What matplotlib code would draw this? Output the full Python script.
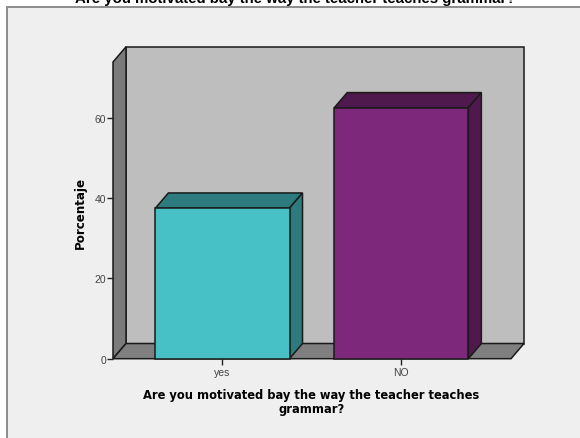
import matplotlib
matplotlib.use('Agg')
from matplotlib import pyplot as plt
from matplotlib.patches import Polygon, Rectangle

categories = ['yes', 'NO']
percent = [37.5, 62.5]
y_ticks = [0, 20, 40, 60]
front_colors = ['#47C1C6', '#7D287A']
shade_colors = ['#2D7B7E', '#4F194D']

title = 'Are you motivated bay the way the teacher teaches grammar?'
x_title = 'Are you motivated bay the way the teacher teaches\ngrammar?'

W, H = 580, 439
BAR_WIDTH = 0.75
EDGE = '#1A1A1A'


def main():
    plt.rcParams['font.family'] = ['Liberation Sans', 'DejaVu Sans']
    fig = plt.figure(figsize=(W / 100, H / 100), dpi=100, facecolor='white')

    # grey panel runs off the right and bottom of the image
    panel = Rectangle((7 / W, -0.1), 1.1, 1.1 - 8.3 / H, transform=fig.transFigure,
                      facecolor='#EFEFEF', edgecolor='#8C8C8C', linewidth=1.4, zorder=-1)
    fig.add_artist(panel)
    fig.text(295 / W, 1 - 2.8 / H, title, ha='center', va='baseline',
             fontsize=10.8, fontweight='bold', color='black')

    left, right, top, bottom = 113, 511, 63, 359.7
    ax = fig.add_axes([left / W, 1 - bottom / H, (right - left) / W, (bottom - top) / H])
    ax.patch.set_visible(False)
    ax.set_xlim(-0.612, 1.6135)
    ax.set_ylim(0, 73.9)

    # pseudo-3D offset of the back wall, in data units
    dx = 13 / 178.8
    dy = 15.2 / 4.017
    x0, x1 = ax.get_xlim()
    y1 = ax.get_ylim()[1]

    def face(points, color, z):
        ax.add_patch(Polygon(points, closed=True, facecolor=color, edgecolor=EDGE,
                             linewidth=1.1, joinstyle='miter', clip_on=False, zorder=z))

    # back wall, side wall, floor
    face([(x0 + dx, dy), (x1 + dx, dy), (x1 + dx, y1 + dy), (x0 + dx, y1 + dy)], '#BEBEBE', 1)
    face([(x0, 0), (x0 + dx, dy), (x0 + dx, y1 + dy), (x0, y1)], '#7B7B7B', 1.1)
    face([(x0, 0), (x1, 0), (x1 + dx, dy), (x0 + dx, dy)], '#7F7F7F', 1.2)

    for i, value in enumerate(percent):
        a, b = i - BAR_WIDTH / 2, i + BAR_WIDTH / 2
        face([(a, value), (b, value), (b + dx, value + dy), (a + dx, value + dy)], shade_colors[i], 2)
        face([(b, 0), (b + dx, dy), (b + dx, value + dy), (b, value)], shade_colors[i], 2)
        face([(a, 0), (b, 0), (b, value), (a, value)], front_colors[i], 3)

    for side in ['top', 'right', 'bottom', 'left']:
        ax.spines[side].set_visible(False)

    ax.set_xticks(range(len(categories)))
    ax.set_xticklabels(categories)
    ax.set_yticks(y_ticks)
    ax.tick_params(axis='y', length=4.5, width=1, color='#222222', pad=0.5,
                   labelsize=7.5, labelcolor='#444444')
    ax.tick_params(axis='x', length=4.5, width=1, color='#222222', pad=1.5,
                   labelsize=7.5, labelcolor='#444444')

    fig.text(80 / W, 1 - 212.5 / H, 'Porcentaje', rotation=90, ha='center', va='center',
             family='DejaVu Sans', fontsize=8.6, fontweight='bold', color='black')
    fig.text(311.5 / W, 1 - 402.5 / H, x_title, ha='center', va='center', multialignment='center',
             family='DejaVu Sans', fontsize=8.3, fontweight='bold', color='black', linespacing=1.12)

    fig.savefig('out.png', dpi=100, facecolor=fig.get_facecolor())


if __name__ == "__main__":
    main()
